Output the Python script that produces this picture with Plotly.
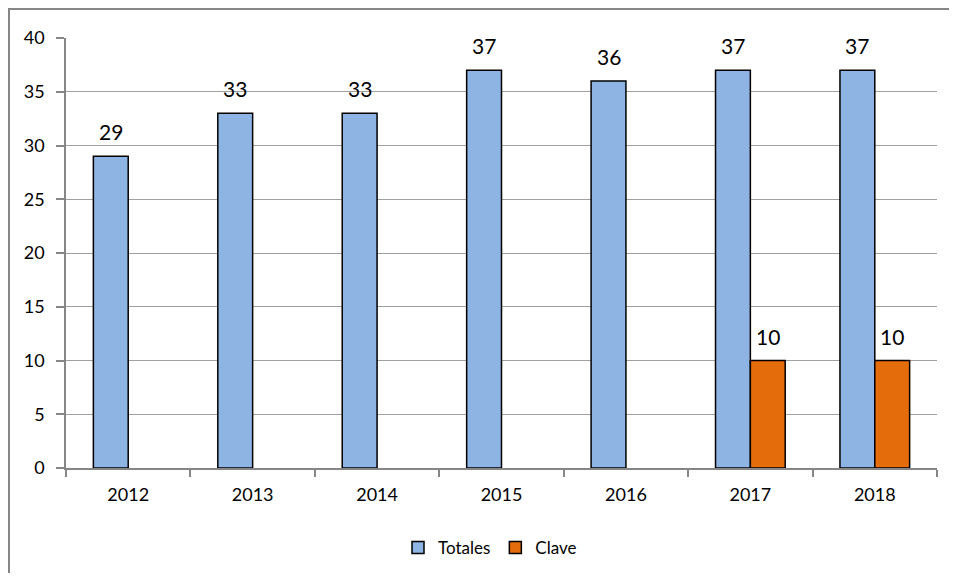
import plotly.graph_objects as go

years = ["2012", "2013", "2014", "2015", "2016", "2017", "2018"]
totales = [29, 33, 33, 37, 36, 37, 37]
clave = [None, None, None, None, None, 10, 10]

OFF = 8  # page body margin
W, H = 957 - 2 * OFF, 581 - 2 * OFF
L, T = 66 - OFF, 38 - OFF
R = W - L - (937 - 66)
B = H - T - (468 - 38)
bargap = 0.44
plot_w = W - L - R
plot_h = H - T - B
cat_w = plot_w / len(years)
bar_w = cat_w * (1 - bargap) / 2

fig = go.Figure()
fig.add_trace(go.Bar(name="Totales", x=years, y=totales,
                     marker=dict(color="#8EB4E3", line=dict(color="#000000", width=1.5))))
fig.add_trace(go.Bar(name="Clave", x=years, y=clave,
                     marker=dict(color="#E46C0A", line=dict(color="#000000", width=1.5))))

annotations = []
for series, shift in ((totales, -bar_w / 2), (clave, bar_w / 2)):
    for i, v in enumerate(series):
        if v is None:
            continue
        annotations.append(dict(x=i, y=v, xref="x", yref="y", text=str(v), showarrow=False,
                                xshift=shift, yshift=10, yanchor="bottom",
                                font=dict(family="Lato", size=21, color="#000000")))

bx0 = (1 - L) / plot_w
by1 = (T - 1) / plot_h + 1
border_path = f"M {bx0},-1 L {bx0},{by1} L 2,{by1}"

fig.update_layout(
    width=W, height=H,
    margin=dict(l=L, r=R, t=T, b=B),
    paper_bgcolor="white", plot_bgcolor="white",
    barmode="group", bargap=bargap, bargroupgap=0,
    font=dict(family="Lato", size=17, color="#000000"),
    annotations=annotations,
    showlegend=True,
    legend=dict(orientation="h", x=(490 - OFF) / W, xref="container", xanchor="center",
                y=1 - (548 - OFF) / H, yref="container", yanchor="middle",
                font=dict(family="Lato", size=17), itemwidth=30, tracegroupgap=0),
    shapes=[dict(type="path", xref="paper", yref="paper", path=border_path,
                 line=dict(color="#868686", width=2), layer="below")],
)
fig.update_xaxes(type="category", range=[-0.5, len(years) - 0.5], showline=True,
                 linecolor="#868686", linewidth=1.5,
                 ticks="outside", tickson="boundaries", ticklen=7, tickcolor="#868686",
                 tickwidth=1.5, ticklabelstandoff=10, showgrid=False,
                 tickfont=dict(family="Lato", size=18))
fig.update_yaxes(range=[0, 40], dtick=5, showline=True, linecolor="#868686", linewidth=1.5,
                 ticks="outside", ticklen=8, tickcolor="#868686", tickwidth=1.5,
                 showgrid=True, gridcolor="#a0a0a0", gridwidth=1.3, zeroline=False,
                 ticklabelstandoff=8, tickfont=dict(family="Lato", size=18))

fig.write_html("out.html")
